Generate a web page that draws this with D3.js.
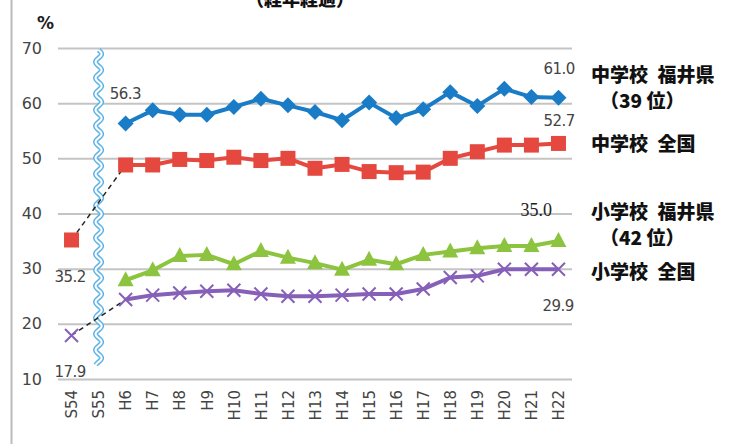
<!DOCTYPE html>
<html>
<head>
    <meta charset="utf-8">
    <title>経年経過</title>
    <style>
        html, body { margin: 0px; padding: 0px; background: #fff; }
        svg { display: block; }
        .tick-label { font-family: 'DejaVu Sans', sans-serif; font-size: 15px; fill: #444; }
        .val { font-family: 'DejaVu Sans', sans-serif; font-size: 15px; fill: #444; letter-spacing: -0.5px; }
        .legend { font-family: 'Noto Sans CJK JP', sans-serif; font-size: 19px; font-weight: 900; fill: #111; }
    </style>
    <script src="https://d3js.org/d3.v7.min.js"></script>
</head>
<body>
<script>

    var categories = ["S54", "S55", "H6", "H7", "H8", "H9", "H10", "H11", "H12", "H13",
        "H14", "H15", "H16", "H17", "H18", "H19", "H20", "H21", "H22"];
    var yTicks = [10, 20, 30, 40, 50, 60, 70];

    // null = no survey value for that year
    var juniorFukui = [null, null, 56.3, 58.7, 57.9, 57.9, 59.3, 60.8, 59.6, 58.4,
        56.9, 60.1, 57.3, 58.9, 62.0, 59.5, 62.6, 61.1, 61.0];
    var juniorNation = [35.2, null, 48.8, 48.8, 49.8, 49.6, 50.2, 49.6, 50.0, 48.2,
        48.9, 47.6, 47.4, 47.5, 50.0, 51.2, 52.4, 52.4, 52.7];
    var elemFukui = [null, null, 27.9, 29.7, 32.3, 32.5, 30.8, 33.2, 32.0, 31.0,
        29.8, 31.6, 30.8, 32.5, 33.1, 33.7, 34.1, 34.1, 35.0];
    var elemNation = [17.9, null, 24.4, 25.2, 25.6, 25.9, 26.1, 25.4, 25.0, 25.0,
        25.2, 25.4, 25.4, 26.3, 28.4, 28.7, 29.9, 29.9, 29.9];

    var width = 739, height = 444;

    var svg = d3.select("body").append("svg")
        .attr("width", width)
        .attr("height", height);

    var x = d3.scalePoint().domain(categories).range([58, 572]).padding(0.5);
    var y = d3.scaleLinear().domain([10, 70]).range([379, 48]);

    // left frame line
    svg.append("line")
        .attr("x1", 11.5).attr("x2", 11.5)
        .attr("y1", 0).attr("y2", height)
        .attr("stroke", "#bbb").attr("stroke-width", 2);

    // title (cut at the top, as in the source)
    svg.append("text")
        .attr("x", 300).attr("y", 6)
        .attr("text-anchor", "middle")
        .attr("class", "legend")
        .style("font-size", "18px")
        .text("（経年経過）");

    svg.append("text")
        .attr("x", 37).attr("y", 29)
        .attr("class", "tick-label")
        .style("font-weight", "bold").style("fill", "#222").style("font-size", "17px")
        .text("%");

    // grid
    var yAxis = d3.axisLeft(y).tickValues(yTicks).tickSize(-(572 - 58)).tickPadding(16);
    var gy = svg.append("g").attr("transform", "translate(58,0)").call(yAxis);
    gy.select(".domain").remove();
    gy.selectAll(".tick line").attr("stroke", "#c4c4c4").attr("stroke-width", 2);
    gy.selectAll(".tick text").attr("class", "tick-label").attr("x", -16).style("font-size", "16px");

    // x labels
    var xAxis = d3.axisBottom(x).tickSize(0);
    var gx = svg.append("g").attr("transform", "translate(0,379)").call(xAxis);
    gx.select(".domain").remove();
    gx.selectAll(".tick text")
        .attr("class", "tick-label")
        .attr("transform", "rotate(-90)")
        .attr("text-anchor", "end")
        .attr("x", -11)
        .attr("y", 0)
        .attr("dy", "0.35em");

    // wavy break line at S55
    var wx = x("S55");
    var wavePts = d3.range(50, 366, 1).map(function(yy) {
        return [wx + 3 * Math.sin((yy - 50) / 16 * 2 * Math.PI), yy];
    });
    var waveLine = d3.line();
    svg.append("path").attr("d", waveLine(wavePts))
        .attr("fill", "none").attr("stroke", "#5db3e6").attr("stroke-width", 5);
    svg.append("path").attr("d", waveLine(wavePts))
        .attr("fill", "none").attr("stroke", "#fff").attr("stroke-width", 2);

    // dashed connectors S54 -> H6
    function dashed(values) {
        svg.append("line")
            .attr("x1", x("S54")).attr("y1", y(values[0]))
            .attr("x2", x("H6")).attr("y2", y(values[2]))
            .attr("stroke", "#222").attr("stroke-width", 1.5)
            .attr("stroke-dasharray", "5,4");
    }
    dashed(juniorNation);
    dashed(elemNation);

    var series = [
        { values: juniorFukui, color: "#1a7cc6", shape: "diamond" },
        { values: juniorNation, color: "#e5483f", shape: "square" },
        { values: elemFukui, color: "#8cc43f", shape: "triangle" },
        { values: elemNation, color: "#8660b8", shape: "cross" }
    ];

    var line = d3.line()
        .defined(function(d) { return d.v !== null; })
        .x(function(d) { return x(d.c); })
        .y(function(d) { return y(d.v); });

    series.forEach(function(s) {
        var pts = categories.map(function(c, i) { return { c: c, v: s.values[i] }; });
        // main line only over H6..H22
        svg.append("path")
            .attr("d", line(pts.slice(2)))
            .attr("fill", "none")
            .attr("stroke", s.color)
            .attr("stroke-width", 4)
            .attr("stroke-linejoin", "round");

        var g = svg.append("g");
        pts.filter(function(d) { return d.v !== null; }).forEach(function(d) {
            var cx = x(d.c), cy = y(d.v);
            if (s.shape === "diamond") {
                g.append("path")
                    .attr("d", "M" + cx + "," + (cy - 8) + "L" + (cx + 8) + "," + cy + "L" + cx + "," + (cy + 8) + "L" + (cx - 8) + "," + cy + "Z")
                    .attr("fill", s.color);
            } else if (s.shape === "square") {
                g.append("rect")
                    .attr("x", cx - 7.5).attr("y", cy - 7.5)
                    .attr("width", 15).attr("height", 15)
                    .attr("fill", s.color);
            } else if (s.shape === "triangle") {
                g.append("path")
                    .attr("d", "M" + cx + "," + (cy - 9) + "L" + (cx + 8) + "," + (cy + 6) + "L" + (cx - 8) + "," + (cy + 6) + "Z")
                    .attr("fill", s.color);
            } else {
                g.append("path")
                    .attr("d", "M" + (cx - 6.5) + "," + (cy - 6.5) + "L" + (cx + 6.5) + "," + (cy + 6.5) + "M" + (cx + 6.5) + "," + (cy - 6.5) + "L" + (cx - 6.5) + "," + (cy + 6.5))
                    .attr("stroke", s.color).attr("stroke-width", 2).attr("fill", "none");
            }
        });
    });

    // value labels
    function valLabel(txt, xx, yy, serif) {
        var t = svg.append("text").attr("x", xx).attr("y", yy).attr("class", "val").text(txt);
        if (serif) t.style("font-family", "'Liberation Serif', 'DejaVu Serif', serif")
            .style("font-size", "18px").style("letter-spacing", "0px").style("fill", "#222");
    }
    valLabel(juniorFukui[2].toFixed(1), x("H6") - 16, y(juniorFukui[2]) - 25);
    valLabel(juniorFukui[18].toFixed(1), x("H22") - 15, y(juniorFukui[18]) - 24);
    valLabel(juniorNation[18].toFixed(1), x("H22") - 15, y(juniorNation[18]) - 17);
    valLabel(elemFukui[18].toFixed(1), x("H22") - 38, y(elemFukui[18]) - 25, true);
    valLabel(juniorNation[0].toFixed(1), x("S54") - 17, y(juniorNation[0]) + 42);
    valLabel(elemNation[0].toFixed(1), x("S54") - 17, y(elemNation[0]) + 42);
    valLabel(elemNation[18].toFixed(1), x("H22") - 16, y(elemNation[18]) + 42);

    // legend texts at right
    var legendRows = [
        { t: "中学校\u2002福井県", x: 591, y: 82 },
        { t: "（39 位）", x: 600, y: 108 },
        { t: "中学校\u2002全国", x: 591, y: 151 },
        { t: "小学校\u2002福井県", x: 591, y: 219 },
        { t: "（42 位）", x: 600, y: 245 },
        { t: "小学校\u2002全国", x: 591, y: 279 }
    ];
    svg.selectAll(".legend-row").data(legendRows).enter().append("text")
        .attr("class", "legend")
        .attr("x", function(d) { return d.x; })
        .attr("y", function(d) { return d.y; })
        .text(function(d) { return d.t; });

</script>
</body>
</html>
